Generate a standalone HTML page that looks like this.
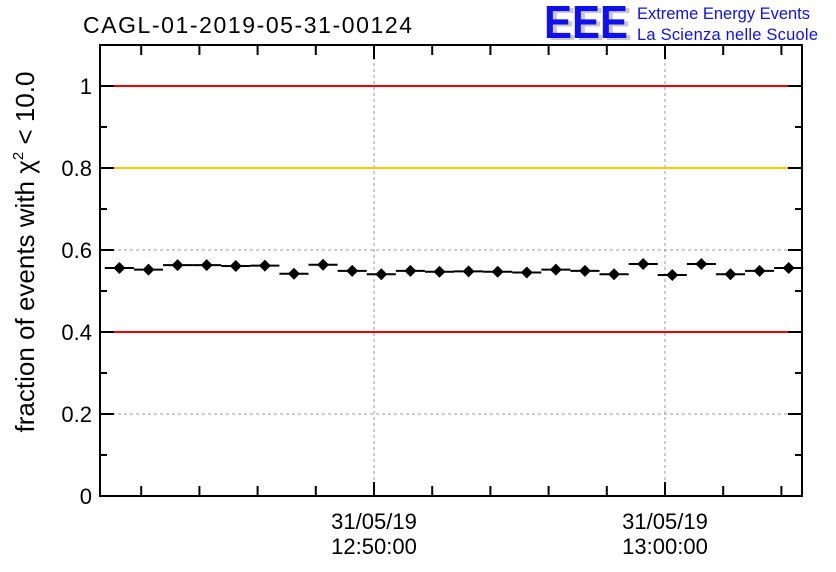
<!DOCTYPE html>
<html><head><meta charset="utf-8"><style>
body{margin:0;background:#fff;}
svg{display:block;font-family:"Liberation Sans",sans-serif;}
</style></head><body>
<svg id="chart" width="836" height="572">
<g id="grid"></g>
<g id="ref"></g>
<g id="series"></g>
<rect x="100" y="45" width="702" height="451" fill="none" stroke="#000" stroke-width="2"/>
<g id="axes"></g>
<text x="83" y="33" font-size="23" textLength="329">CAGL-01-2019-05-31-00124</text>
<g>
<text x="548" y="40" font-size="46" font-weight="bold" fill="#c8c8c8" textLength="84" lengthAdjust="spacingAndGlyphs">EEE</text>
<text x="544" y="38" font-size="46" font-weight="bold" fill="#1010ee" textLength="84" lengthAdjust="spacingAndGlyphs">EEE</text>
<text x="637" y="19" font-size="16.5" fill="#1010ee" textLength="173">Extreme Energy Events</text>
<text x="637" y="40" font-size="16.5" fill="#1010ee" textLength="181">La Scienza nelle Scuole</text>
</g>
<text transform="translate(34,252) rotate(-90)" text-anchor="middle" font-size="26">fraction of events with χ<tspan dy="-11" font-size="15">2</tspan><tspan dy="11"> &lt; 10.0</tspan></text>
</svg>
<script>
const minutes=[-8.75,-7.75,-6.75,-5.75,-4.75,-3.75,-2.75,-1.75,-0.75,0.25,1.25,2.25,3.25,4.25,5.25,6.25,7.25,8.25,9.25,10.25,11.25,12.25,13.25,14.25];
const fractions=[0.556,0.552,0.563,0.563,0.561,0.562,0.542,0.564,0.549,0.541,0.549,0.547,0.548,0.547,0.545,0.552,0.549,0.541,0.566,0.539,0.566,0.541,0.549,0.556];
const yTicks=[0,0.2,0.4,0.6,0.8,1];
const yTickLabels=["0","0.2","0.4","0.6","0.8","1"];
const xMajor=[0,10];
const xMajorLabels=[["31/05/19","12:50:00"],["31/05/19","13:00:00"]];
const refLines=[1,0.8,0.4];
const refColors=["#f00000","#ffc800","#f00000"];
const X0=100,X1=802,Y0=496,Y1=45;
const xmin=-9.416,xmax=14.708,ymin=0,ymax=1.1;
const sx=v=>X0+(v-xmin)/(xmax-xmin)*(X1-X0);
const sy=v=>Y0-(v-ymin)/(ymax-ymin)*(Y0-Y1);
const NS="http://www.w3.org/2000/svg";
function mk(t,p,parent){const e=document.createElementNS(NS,t);for(const k in p)e.setAttribute(k,p[k]);document.getElementById(parent).appendChild(e);return e;}
yTicks.forEach(v=>{if(v>0&&v<1.1){const l=mk('line',{x1:X0,x2:X1,y1:sy(v),y2:sy(v),stroke:'#999','stroke-dasharray':'3,3'},'grid');

}});
xMajor.forEach(v=>{const l=mk('line',{x1:sx(v),x2:sx(v),y1:Y1,y2:Y0,stroke:'#999','stroke-dasharray':'3,3'},'grid');

});
refLines.forEach((v,i)=>{const l=mk('line',{x1:X0,x2:X1,y1:sy(v),y2:sy(v),stroke:refColors[i],'stroke-width':2},'ref');

});
const bw=(sx(1)-sx(0));
minutes.forEach((m,i)=>{const x=sx(m),y=sy(fractions[i]);
const h=mk('line',{x1:x-bw/2,x2:x+bw/2,y1:y,y2:y,stroke:'#000','stroke-width':2},'series');


const p=mk('path',{d:`M${x-6},${y} L${x},${y-6} L${x+6},${y} L${x},${y+6} Z`,fill:'#000'},'series');

});
yTicks.forEach((v,i)=>{const y=sy(v);
mk('line',{x1:X0,x2:X0+14,y1:y,y2:y,stroke:'#000','stroke-width':2},'axes');
mk('line',{x1:X1,x2:X1-14,y1:y,y2:y,stroke:'#000','stroke-width':2},'axes');
const t=mk('text',{x:X0-8,y:y+8,'text-anchor':'end','font-size':22},'axes');t.textContent=yTickLabels[i];

});
for(let v=0.1;v<1.1;v+=0.2){const y=sy(v);mk('line',{x1:X0,x2:X0+7,y1:y,y2:y,stroke:'#000','stroke-width':2},'axes');mk('line',{x1:X1,x2:X1-7,y1:y,y2:y,stroke:'#000','stroke-width':2},'axes');}
for(let m=-8;m<=14;m+=2){const x=sx(m);const len=xMajor.includes(m)?14:10;
mk('line',{x1:x,x2:x,y1:Y0,y2:Y0-len,stroke:'#000','stroke-width':2},'axes');
mk('line',{x1:x,x2:x,y1:Y1,y2:Y1+len,stroke:'#000','stroke-width':2},'axes');}
xMajor.forEach((v,i)=>{const x=sx(v);
xMajorLabels[i].forEach((s,j)=>{const t=mk('text',{x:x,y:529+j*25,'text-anchor':'middle','font-size':22},'axes');t.textContent=s;

});});
</script>
</body></html>
